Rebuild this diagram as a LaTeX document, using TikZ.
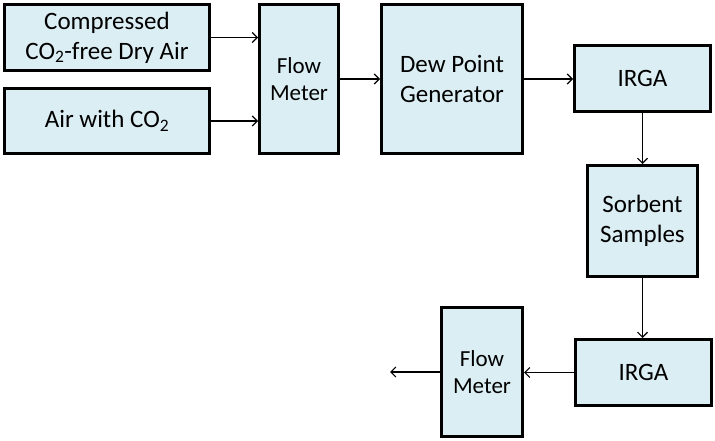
\documentclass[tikz,border=0pt]{standalone}
\usepackage{fontspec}
\setmainfont{Carlito}
\usetikzlibrary{arrows.meta}
\definecolor{boxfill}{HTML}{DBEEF4}
\tikzset{
  blk/.style={draw=black, line width=3pt, fill=boxfill, rectangle, inner sep=0pt, align=center, font=\fontsize{25}{30}\selectfont},
  blksm/.style={blk, font=\fontsize{23}{27.5}\selectfont},
  flow/.style={draw=black, line width=1.1pt, -{Straight Barb[length=5pt,width=10pt,line width=1.1pt]}}
}
\begin{document}
\begin{tikzpicture}[x=1pt,y=-1pt]
\useasboundingbox (0,0) rectangle (715,441);
\node[blk, minimum width=205pt, minimum height=66pt] (b1) at (107,37.5) {Compressed\\CO\textsubscript{2}-free Dry Air};
\node[blk, minimum width=205pt, minimum height=65pt] (b2) at (107,121) {Air with CO\textsubscript{2}};
\node[blksm, minimum width=79pt, minimum height=149pt] (fm1) at (299,79) {Flow\\Meter};
\node[blk, minimum width=141pt, minimum height=149pt] (dew) at (452,79) {Dew Point\\Generator};
\node[blk, minimum width=136pt, minimum height=66pt] (irga1) at (642.5,78.5) {IRGA};
\node[blk, minimum width=110pt, minimum height=111pt] (sorb) at (642.5,221) {Sorbent\\Samples};
\node[blk, minimum width=136pt, minimum height=66pt] (irga2) at (643.5,372.5) {IRGA};
\node[blksm, minimum width=81pt, minimum height=129pt] (fm2) at (482,372) {Flow\\Meter};
\coordinate (out) at (390,372);
\draw[flow] (b1.east) -- (b1.east -| fm1.west);
\draw[flow] (b2.east) -- (b2.east -| fm1.west);
\draw[flow] (fm1.east) -- (dew.west);
\draw[flow] (dew.east) -- (dew.east -| irga1.west);
\draw[flow] (irga1.south) -- (irga1.south |- sorb.north);
\draw[flow] (sorb.south) -- (sorb.south |- irga2.north);
\draw[flow] (irga2.west) -- (irga2.west -| fm2.east);
\draw[flow] (fm2.west |- out) -- (out);
\end{tikzpicture}
\end{document}
